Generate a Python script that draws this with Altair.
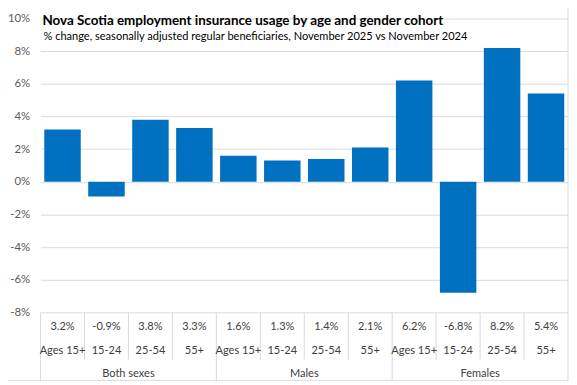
import altair as alt
import pandas as pd

# ---- data ----
groups = ["Both sexes"] * 4 + ["Males"] * 4 + ["Females"] * 4
ages = ["Ages 15+", "15-24", "25-54", "55+"] * 3
values = [3.2, -0.9, 3.8, 3.3, 1.6, 1.3, 1.4, 2.1, 6.2, -6.8, 8.2, 5.4]
y_ticks = [-8, -6, -4, -2, 0, 2, 4, 6, 8, 10]
group_names = ["Both sexes", "Males", "Females"]

title_text = "Nova Scotia employment insurance usage by age and gender cohort"
subtitle_text = "% change, seasonally adjusted regular beneficiaries,  November 2025 vs November 2024"

keys = [f"{g}|{a}" for g, a in zip(groups, ages)]
df = pd.DataFrame({"key": keys, "group": groups, "age": ages, "value": values})
df["label"] = df["value"].map(lambda v: f"{v:.1f}%")

# group label sits at the start of the 3rd category of each group (group centre)
grp_df = pd.DataFrame({"key": [keys[2], keys[6], keys[10]], "group": group_names})
inner_df = pd.DataFrame({"key": [keys[i] for i in (1, 2, 3, 5, 6, 7, 9, 10, 11)]})
outer_df = pd.DataFrame({"key": [keys[0], keys[4], keys[8]]})
right_df = pd.DataFrame({"key": [keys[11]]})

FONT = "Lato, Roboto, sans-serif"
GRID = "#D9D9D9"
LEFT = 33
W, H = 535, 298

xscale = alt.Scale(paddingInner=0, paddingOuter=0)


def xk(band=0.5):
    return alt.X("key:N", sort=keys, axis=None, scale=xscale, bandPosition=band)


bars = alt.Chart(df).mark_bar(color="#0070C0", width=alt.RelativeBandSize(0.83)).encode(
    x=alt.X("key:N", sort=keys, axis=None, scale=xscale),
    y=alt.Y(
        "value:Q",
        scale=alt.Scale(domain=[-8, 10], nice=False, zero=False),
        axis=alt.Axis(
            values=y_ticks, labelExpr="datum.value + '%'", title=None, grid=True,
            gridColor=GRID, domain=False, ticks=False, labelPadding=11,
            labelFont=FONT, labelFontSize=11.5, labelColor="#595959",
        ),
    ),
)

TXT = dict(font=FONT, fontSize=11.2, color="#404040")
val_txt = alt.Chart(df).mark_text(**TXT).encode(x=xk(), y=alt.value(313), text="label:N")
age_txt = alt.Chart(df).mark_text(**TXT).encode(x=xk(), y=alt.value(337), text="age:N")
grp_txt = alt.Chart(grp_df).mark_text(**TXT).encode(x=xk(0), y=alt.value(361), text="group:N")

inner_rules = alt.Chart(inner_df).mark_rule(color=GRID).encode(
    x=xk(0), y=alt.value(298), y2=alt.value(346)
)
outer_rules = alt.Chart(outer_df).mark_rule(color=GRID).encode(
    x=xk(0), y=alt.value(298), y2=alt.value(368)
)
right_rule = alt.Chart(right_df).mark_rule(color=GRID).encode(
    x=xk(1), y=alt.value(-16), y2=alt.value(368)
)
bottom_rule = alt.Chart(right_df).mark_rule(color=GRID).encode(
    x=alt.value(-LEFT), x2=alt.value(W), y=alt.value(367)
)

title = alt.Chart(pd.DataFrame({"t": [title_text]})).mark_text(
    font=FONT, fontSize=13.6, fontWeight="bold", color="#000000", align="left", baseline="alphabetic"
).encode(x=alt.value(2), y=alt.value(7), text="t:N")
subtitle = alt.Chart(pd.DataFrame({"t": [subtitle_text]})).mark_text(
    font=FONT, fontSize=11.2, color="#000000", align="left", baseline="alphabetic"
).encode(x=alt.value(3), y=alt.value(22), text="t:N")

chart = (
    alt.layer(bars, inner_rules, outer_rules, right_rule, bottom_rule,
              val_txt, age_txt, grp_txt, title, subtitle)
    .properties(
        width=W, height=H,
        autosize=alt.AutoSizeParams(type="none"),
        padding={"left": LEFT, "top": 8, "right": 1, "bottom": 70},
        background="white",
    )
    .configure_view(stroke=None)
)

chart.save("out.html", embed_options={"renderer": "svg", "actions": False})
